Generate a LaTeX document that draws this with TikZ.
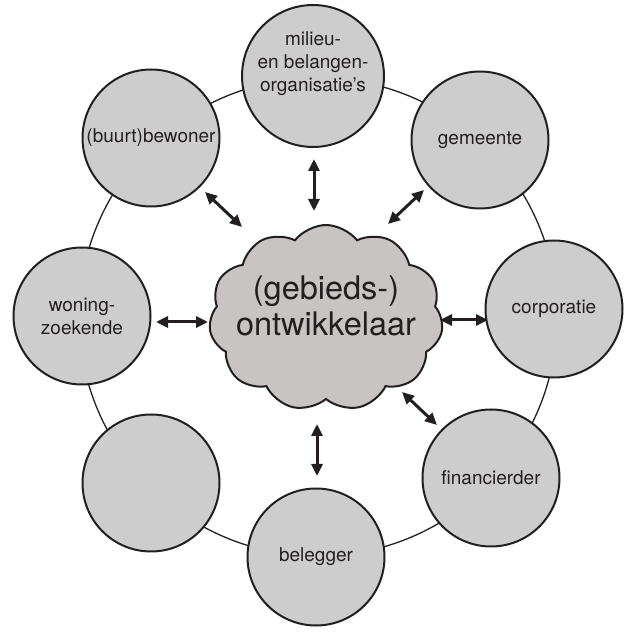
\documentclass[tikz,border=0pt]{standalone}
\usepackage{fontspec}
\setmainfont{TeX Gyre Heros}
\usetikzlibrary{shapes.symbols,arrows.meta,calc}
\definecolor{ink}{HTML}{231F20}
\definecolor{circfill}{HTML}{CDCDCD}
\definecolor{cloudfill}{HTML}{C8C4C4}
\tikzset{
  actor/.style={circle,draw=ink,line width=2pt,fill=circfill,minimum size=137pt,inner sep=0pt,
    align=center,text=ink,font=\fontsize{19}{23}\selectfont},
  hub/.style={cloud,cloud puffs=11,cloud puff arc=105,cloud ignores aspect,draw=ink,line width=2pt,fill=cloudfill,
    minimum width=234pt,minimum height=186pt,inner sep=0pt,shape border rotate=8},
  hubtext/.style={align=center,text=ink,inner sep=0pt,font=\fontsize{32.5}{36}\selectfont},
  ring/.style={draw=ink,line width=1.3pt},
  arr/.style={ink,line width=3pt,{Triangle[length=12pt,width=11pt]}-{Triangle[length=12pt,width=11pt]}}
}
\begin{document}
\begin{tikzpicture}[x=1pt,y=1pt]
\useasboundingbox (0,0) rectangle (624,635);
\coordinate (rc) at (318,318);
\draw[ring] (rc) circle[radius=239];
\node[actor] (milieu) at (313,559) {milieu-\\en belangen-\\organisatie’s\\[6pt]};
\node[actor] (gemeente) at (480,495) {gemeente};
\node[actor] (corporatie) at (554,326) {corporatie};
\node[actor] (financierder) at (491,157) {financierder};
\node[actor] (belegger) at (316,78) {belegger};
\node[actor] (leeg) at (151,152) {};
\node[actor] (woning) at (82,319) {woning-\\zoekende};
\node[actor] (buurt) at (151,497) {(buurt)bewoner};
\node[hub] (ontw) at (326,317) {};
\node[hubtext] (ontwtext) at ($(ontw.center)+(0,12)$) {(gebieds-)\\ontwikkelaar};
% arrow end points
\coordinate (a1s) at (314,476); \coordinate (a1e) at (314,424);
\coordinate (a2s) at (205,443); \coordinate (a2e) at (242,408);
\coordinate (a3s) at (424,445); \coordinate (a3e) at (388,411);
\coordinate (a4s) at (156,313); \coordinate (a4e) at (208,313);
\coordinate (a5s) at (440,315); \coordinate (a5e) at (488,315);
\coordinate (a6s) at (402,243); \coordinate (a6e) at (437,210);
\coordinate (a7s) at (317,211); \coordinate (a7e) at (317,159);
\foreach \i in {1,...,7}{\draw[arr] (a\i s) -- (a\i e);}
\end{tikzpicture}
\end{document}
